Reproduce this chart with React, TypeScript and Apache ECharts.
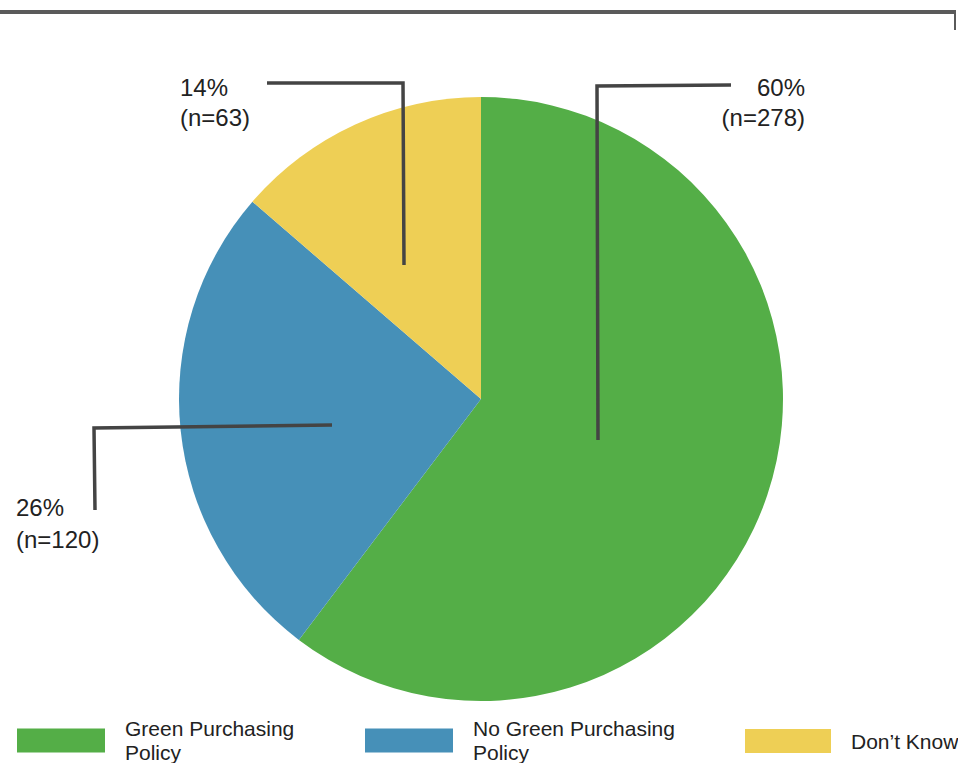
import React, { useEffect, useRef } from "react";
import * as echarts from "echarts";

const categories = ["Green Purchasing\nPolicy", "No Green Purchasing\nPolicy", "Don’t Know"];
const counts = [278, 120, 63];
const percents = [60, 26, 14];
const colors = ["#54ae47", "#4690b8", "#eecf55"];

// label anchor positions and leader lines (annotation layout)
const labelPos = [
  { x: 805, y: 102, align: "right", lh: 30, line: [[598, 440], [597, 86], [731, 85]] },
  { x: 16, y: 523, align: "left", lh: 32, line: [[332, 425], [94, 428], [95, 510]] },
  { x: 180, y: 102, align: "left", lh: 30, line: [[404, 265], [403, 83], [267, 83]] },
];
const legendLefts = [17, 365, 745];
const legendIconWidths = [88, 88, 86];

export default function App() {
  const ref = useRef<HTMLDivElement>(null);
  useEffect(() => {
    if (!ref.current) return;
    const chart = echarts.init(ref.current, null, { renderer: "svg" });
    const font = "'Liberation Sans', Arial, Helvetica, sans-serif";
    chart.setOption({
      animation: false,
      backgroundColor: "#ffffff",
      graphic: [
        { type: "line", shape: { x1: 0, y1: 12, x2: 956, y2: 12 }, style: { stroke: "#5a5a5a", lineWidth: 4 } },
        { type: "line", shape: { x1: 955, y1: 12, x2: 955, y2: 30 }, style: { stroke: "#5a5a5a", lineWidth: 2 } },
        ...labelPos.map((lp) => ({
          type: "polyline",
          z: 100,
          shape: { points: lp.line },
          style: { stroke: "#444", lineWidth: 3.5, fill: "none" },
        })),
      ],
      legend: categories.map((c, i) => ({
        data: [c],
        left: legendLefts[i],
        top: c.includes("\n") ? 716.5 : 729,
        orient: "horizontal",
        padding: 0,
        itemGap: 0,
        itemWidth: legendIconWidths[i],
        itemHeight: 24,
        icon: "rect",
        selectedMode: false,
        itemStyle: { color: colors[i] },
        textStyle: {
          fontFamily: font,
          fontSize: 21,
          lineHeight: 24,
          color: "#222",
          padding: [0, 0, 0, 15],
        },
      })),
      series: [
        {
          type: "pie",
          center: [481, 399],
          radius: 302,
          startAngle: 90,
          clockwise: true,
          avoidLabelOverlap: false,
          itemStyle: { borderWidth: 0 },
          emphasis: { disabled: true },
          label: {
            show: true,
            position: "outside",
            fontFamily: font,
            fontSize: 24,
            lineHeight: 30,
            color: "#222",
            formatter: (p: any) => `${percents[p.dataIndex]}%\n(n=${counts[p.dataIndex]})`,
          },
          labelLine: { show: false },
          labelLayout: (params: any) => {
            const lp = labelPos[params.dataIndex];
            return {
              x: lp.x,
              y: lp.y,
              align: lp.align,
              verticalAlign: "middle",
            };
          },
          data: categories.map((c, i) => ({
            name: c,
            value: counts[i],
            itemStyle: { color: colors[i] },
            label: { lineHeight: labelPos[i].lh },
          })),
        },
      ],
    });
    return () => chart.dispose();
  }, []);
  return (
    <div
      ref={ref}
      style={{ position: "absolute", left: 0, top: 0, width: 958, height: 763 }}
    />
  );
}
